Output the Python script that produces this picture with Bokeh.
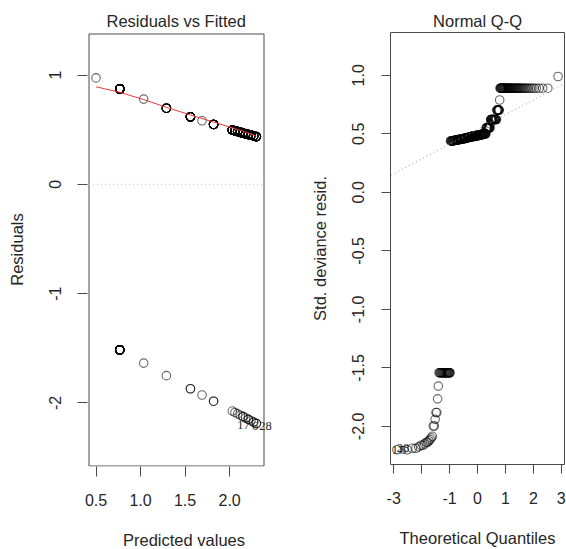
from statistics import NormalDist
import numpy as np
from bokeh.plotting import figure
from bokeh.layouts import row
from bokeh.models import (ColumnDataSource, Slope, LabelSet, FixedTicker,
                          PrintfTickFormatter, Range1d, BoxAnnotation)
from bokeh.embed import file_html
from bokeh.resources import INLINE

# ---- data (logistic-regression diagnostics) ----
fitted    = [0.5, 0.766, 1.035, 1.29, 1.56, 1.69, 1.82, 2.03, 2.06, 2.09, 2.12, 2.15, 2.18, 2.21, 2.24, 2.27, 2.30]
resid_pos = [0.974, 0.874, 0.780, 0.697, 0.618, 0.582, 0.548, 0.497, 0.490, 0.483, 0.476, 0.469, 0.463, 0.456, 0.450, 0.443, 0.437]
resid_neg = [-1.396, -1.515, -1.636, -1.751, -1.871, -1.928, -1.985, -2.075, -2.088, -2.101, -2.113, -2.126, -2.139, -2.151, -2.164, -2.176, -2.189]
std_pos   = [0.990, 0.890, 0.789, 0.703, 0.622, 0.585, 0.551, 0.500, 0.492, 0.485, 0.478, 0.471, 0.465, 0.458, 0.452, 0.445, 0.439]
std_neg   = [-1.418, -1.542, -1.656, -1.765, -1.882, -1.940, -1.997, -2.085, -2.098, -2.111, -2.123, -2.136, -2.150, -2.162, -2.175, -2.187, -2.200]
n_pos     = [1, 53, 1, 8, 19, 1, 14, 13, 13, 13, 13, 12, 12, 11, 10, 10, 9]
n_neg     = [0, 21, 1, 1, 2, 1, 2, 1, 1, 1, 1, 2, 1, 2, 1, 2, 2]

smooth_x = [0.5, 0.766, 1.035, 1.29, 1.56, 1.69, 1.82, 2.03, 2.15, 2.30]
smooth_y = [0.893, 0.842, 0.776, 0.705, 0.635, 0.602, 0.570, 0.517, 0.487, 0.441]

id_labels = ["17", "6", "28"]
id_fitted = [2.27, 2.30, 2.30]
id_resid  = [-2.176, -2.189, -2.189]
qq_labels = ["6", "17", "28"]

x1_ticks = [0.5, 1.0, 1.5, 2.0]
y1_ticks = [-2, -1, 0, 1]
x2_ticks = [-3, -2, -1, 0, 1, 2, 3]
y2_ticks = [-2.0, -1.5, -1.0, -0.5, 0.0, 0.5, 1.0]

# axis limits of the two plot boxes
x1_lim = (0.421, 2.386)
y1_lim = (-2.578, 1.376)
x2_lim = (-3.115, 3.115)
y2_lim = (-2.326, 1.366)

# ---- expand to observations ----
obs_fit, obs_r, obs_rs = [], [], []
for i, f in enumerate(fitted):
    for _ in range(n_pos[i]):
        obs_fit.append(f); obs_r.append(resid_pos[i]); obs_rs.append(std_pos[i])
    for _ in range(n_neg[i]):
        obs_fit.append(f); obs_r.append(resid_neg[i]); obs_rs.append(std_neg[i])
obs_rs = np.array(obs_rs)
n = len(obs_rs)
nd = NormalDist()
qq_y = np.sort(obs_rs, kind="stable")
qq_x = np.array([nd.inv_cdf((i + 0.5) / n) for i in range(n)])
q1, q3 = np.percentile(obs_rs, [25, 75])
t1, t3 = nd.inv_cdf(0.25), nd.inv_cdf(0.75)
qq_slope = (q3 - q1) / (t3 - t1)
qq_int = q1 - qq_slope * t1

FONT = "Liberation Sans"
TXT = "#262626"
BOX = "#4a4a4a"


def style(p, xlab, ylab):
    p.xgrid.visible = False
    p.ygrid.visible = False
    p.outline_line_color = BOX
    p.outline_line_width = 1
    p.background_fill_color = "white"
    p.border_fill_color = "white"
    p.title.align = "center"
    p.title.text_font = FONT
    p.title.text_font_size = "16.5px"
    p.title.text_font_style = "normal"
    p.title.text_color = TXT
    p.title.standoff = 6
    for ax in (p.xaxis[0], p.yaxis[0]):
        ax.axis_line_color = None
        ax.major_tick_line_color = BOX
        ax.major_tick_out = 9
        ax.major_tick_in = 0
        ax.minor_tick_line_color = None
        ax.major_label_text_font = FONT
        ax.major_label_text_font_size = "16px"
        ax.major_label_text_color = TXT
        ax.axis_label_text_font = FONT
        ax.axis_label_text_font_size = "16.5px"
        ax.axis_label_text_font_style = "normal"
        ax.axis_label_text_color = TXT
    p.xaxis[0].axis_label = xlab
    p.yaxis[0].axis_label = ylab
    p.xaxis[0].major_label_standoff = 18
    p.xaxis[0].axis_label_standoff = 22
    p.yaxis[0].major_label_standoff = 17
    p.yaxis[0].axis_label_standoff = 21
    p.yaxis[0].major_label_orientation = "parallel"


# ---- panel 1: Residuals vs Fitted ----
# the frame is a little larger than the box on left/top/bottom (box edges on
# pixel centres) and 17px larger on the right, so that the point labels may
# run past the box as in the reference
BOX_W, BOX_H = 175, 432
dx1 = (x1_lim[1] - x1_lim[0]) / BOX_W
dy1 = (y1_lim[1] - y1_lim[0]) / BOX_H
x1_start = x1_lim[0] - 1.5 * dx1
y1_end = y1_lim[1] + 1.5 * dy1
p1 = figure(frame_width=193, frame_height=434,
            min_border_left=87, min_border_right=0,
            min_border_top=31, min_border_bottom=84,
            x_range=Range1d(x1_start, x1_start + 193 * dx1),
            y_range=Range1d(y1_end - 434 * dy1, y1_end),
            title="Residuals vs Fitted", output_backend="svg", toolbar_location=None)
style(p1, "Predicted values", "Residuals")
p1.outline_line_color = None
p1.title.align = "left"
p1.title.offset = 19
p1.xaxis[0].major_tick_out = 10
p1.yaxis[0].major_tick_out = 10
p1.xaxis[0].major_label_standoff = 17
p1.yaxis[0].major_label_standoff = 16
p1.xaxis[0].ticker = FixedTicker(ticks=x1_ticks)
p1.xaxis[0].formatter = PrintfTickFormatter(format="%.1f")
p1.yaxis[0].ticker = FixedTicker(ticks=y1_ticks)
p1.yaxis[0].formatter = PrintfTickFormatter(format="%d")

p1.add_layout(BoxAnnotation(left=x1_lim[0], right=x1_lim[1], bottom=y1_lim[0], top=y1_lim[1],
                            fill_color=None, fill_alpha=0, line_color=BOX, line_alpha=1.0,
                            line_width=1, level="underlay"))
# horizontal reference at zero, across the box only
p1.segment(x0=[x1_lim[0]], x1=[x1_lim[1]], y0=[0], y1=[0], line_color="#bebebe",
           line_dash="1 3", line_width=1)
p1.scatter(obs_fit, obs_r, marker="circle", size=8.5, fill_color=None,
           line_color="black", line_alpha=0.6, line_width=1.1)
p1.line(smooth_x, smooth_y, line_color="#e8393a", line_width=1)

lab1_r = ColumnDataSource(dict(x=id_fitted[:2], y=id_resid[:2], t=id_labels[:2], dx=[-4, 2]))
lab1_l = ColumnDataSource(dict(x=id_fitted[2:], y=id_resid[2:], t=id_labels[2:], dx=[3]))
p1.add_layout(LabelSet(x="x", y="y", text="t", source=lab1_r, x_offset="dx", y_offset=-3,
                       text_align="right", text_baseline="middle", text_font=FONT,
                       text_font_size="12.5px", text_color=TXT))
p1.add_layout(LabelSet(x="x", y="y", text="t", source=lab1_l, x_offset="dx", y_offset=-3,
                       text_align="left", text_baseline="middle", text_font=FONT,
                       text_font_size="12.5px", text_color=TXT))

# ---- panel 2: Normal Q-Q ----
p2 = figure(frame_width=174, frame_height=BOX_H, min_border_left=110, min_border_right=2,
            min_border_top=32, min_border_bottom=85,
            x_range=Range1d(*x2_lim), y_range=Range1d(*y2_lim),
            title="Normal Q-Q", output_backend="svg", toolbar_location=None)
style(p2, "Theoretical Quantiles", "Std. deviance resid.")
p2.xaxis[0].ticker = FixedTicker(ticks=x2_ticks)
p2.xaxis[0].formatter = PrintfTickFormatter(format="%d")
p2.xaxis[0].major_label_overrides = {-2: ""}
p2.yaxis[0].ticker = FixedTicker(ticks=y2_ticks)
p2.yaxis[0].formatter = PrintfTickFormatter(format="%.1f")

p2.add_layout(Slope(gradient=qq_slope, y_intercept=qq_int, line_color="#9a9a9a",
                    line_dash="1 3", line_width=1))
p2.scatter(qq_x, qq_y, marker="circle", size=8.5, fill_color=None,
           line_color="black", line_alpha=0.6, line_width=1.1)

lab2_l = ColumnDataSource(dict(x=qq_x[:1], y=qq_y[:1], t=qq_labels[:1]))
lab2_r = ColumnDataSource(dict(x=qq_x[1:3], y=qq_y[1:3], t=qq_labels[1:3]))
p2.add_layout(LabelSet(x="x", y="y", text="t", source=lab2_l, x_offset=3,
                       text_align="left", text_baseline="middle", text_font=FONT,
                       text_font_size="12.5px", text_color=TXT))
p2.add_layout(LabelSet(x="x", y="y", text="t", source=lab2_r, x_offset=-3,
                       text_align="right", text_baseline="middle", text_font=FONT,
                       text_font_size="12.5px", text_color=TXT))

layout = row(p1, p2)
open("out.html", "w").write(file_html(layout, INLINE))
